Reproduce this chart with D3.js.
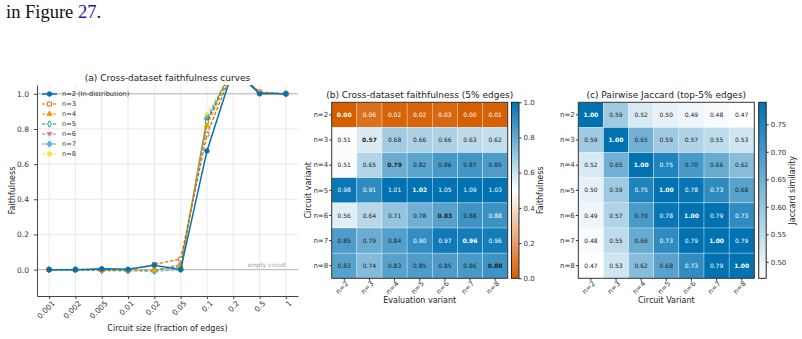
<!DOCTYPE html>
<html>
<head>
<meta charset="utf-8">
<script src="https://cdn.jsdelivr.net/npm/d3@7"></script>
<style>
  body { margin: 0; background: #fff; }
  svg text { font-family: "DejaVu Sans", sans-serif; }
  svg text.serif { font-family: "Liberation Serif", serif; }
</style>
</head>
<body>
<div id="chart"></div>
<script>
// ---- data ----
const sizes = ["0.001", "0.002", "0.005", "0.01", "0.02", "0.05", "0.1", "0.2", "0.5", "1"];
const seriesNames = ["n=2 (In-distribution)", "n=3", "n=4", "n=5", "n=6", "n=7", "n=8"];
const n2 = [0.000, 0.000, 0.005, 0.002, 0.025, 0.000, 0.675, 1.14, 1.000, 1.000];
const n3 = [0.000, 0.000, 0.000, -0.003, 0.030, 0.060, 0.770, 1.14, 1.010, 1.000];
const n4 = [0.000, 0.000, -0.002, -0.004, -0.003, 0.020, 0.820, 1.14, 1.005, 1.000];
const n5 = [0.000, 0.000, -0.006, -0.005, -0.005, 0.020, 0.840, 1.15, 1.005, 1.000];
const n6 = [0.000, 0.000, -0.002, -0.004, -0.004, 0.030, 0.850, 1.15, 1.005, 1.000];
const n7 = [0.000, 0.000, -0.003, -0.006, -0.010, 0.000, 0.860, 1.15, 1.005, 1.000];
const n8 = [0.000, 0.000, -0.002, -0.005, -0.002, 0.010, 0.880, 1.15, 1.005, 1.000];
const curveYTicks = [0.0, 0.2, 0.4, 0.6, 0.8, 1.0];

const variants = ["n=2", "n=3", "n=4", "n=5", "n=6", "n=7", "n=8"];
const faithMatrix = [
  [0.00, 0.06, 0.02, 0.02, 0.03, 0.00, 0.01],
  [0.51, 0.57, 0.68, 0.66, 0.66, 0.63, 0.62],
  [0.51, 0.65, 0.79, 0.82, 0.86, 0.87, 0.85],
  [0.98, 0.91, 1.01, 1.02, 1.05, 1.09, 1.03],
  [0.56, 0.64, 0.71, 0.78, 0.83, 0.88, 0.884],
  [0.85, 0.79, 0.84, 0.90, 0.97, 0.96, 0.96],
  [0.83, 0.74, 0.83, 0.85, 0.85, 0.86, 0.88]
];
const faithTicks = [0.0, 0.2, 0.4, 0.6, 0.8, 1.0];

const jaccardMatrix = [
  [1.00, 0.59, 0.52, 0.50, 0.49, 0.48, 0.47],
  [0.59, 1.00, 0.65, 0.59, 0.57, 0.55, 0.53],
  [0.52, 0.65, 1.00, 0.75, 0.70, 0.66, 0.62],
  [0.50, 0.59, 0.75, 1.00, 0.78, 0.73, 0.68],
  [0.49, 0.57, 0.70, 0.78, 1.00, 0.79, 0.73],
  [0.48, 0.55, 0.66, 0.73, 0.79, 1.00, 0.79],
  [0.47, 0.53, 0.62, 0.68, 0.73, 0.79, 1.00]
];
const jaccardTicks = [0.50, 0.55, 0.60, 0.65, 0.70, 0.75];

const series = [n2, n3, n4, n5, n6, n7, n8];
const colors = ["#0072B2", "#D55E00", "#E69F00", "#009E73", "#CC79A7", "#56B4E9", "#F0E442"];
const markers = ["circle", "square", "triangle", "diamond", "triangleDown", "plus", "pentagon"];

const W = 802, H = 339;
const svg = d3.select("#chart").append("svg").attr("width", W).attr("height", H).style("display", "block");

// leftover text from the page above the figure
const headText = svg.append("text").attr("class", "serif").attr("x", 6).attr("y", 17.5)
  .style("font-size", "18.5px").attr("fill", "#111");
headText.append("tspan").text("in Figure ");
headText.append("tspan").attr("fill", "#1a1aa6").text("27");
headText.append("tspan").text(".");

// ================= (a) curves =================
const ax = { l: 37, r: 298, t: 85, b: 296 };
const x = d3.scalePoint().domain(sizes).range([ax.l, ax.r]).padding(0.46);
const y = d3.scaleLinear().domain([-0.15, 1.05]).range([ax.b, ax.t]);

const ga = svg.append("g");
ga.append("clipPath").attr("id", "clipA").append("rect")
  .attr("x", ax.l).attr("y", ax.t).attr("width", ax.r - ax.l).attr("height", ax.b - ax.t);

// grid
ga.selectAll(".vg").data(sizes).enter().append("line")
  .attr("x1", d => x(d)).attr("x2", d => x(d)).attr("y1", ax.t).attr("y2", ax.b)
  .attr("stroke", "#e3e3e3").attr("stroke-width", 0.8);
ga.selectAll(".hg").data(curveYTicks).enter().append("line")
  .attr("x1", ax.l).attr("x2", ax.r).attr("y1", d => y(d)).attr("y2", d => y(d))
  .attr("stroke", "#e3e3e3").attr("stroke-width", 0.8);
// reference lines at 0 and 1
[0, 1].forEach(v => {
  ga.append("line").attr("x1", ax.l).attr("x2", ax.r).attr("y1", y(v)).attr("y2", y(v))
    .attr("stroke", "#b5b5b5").attr("stroke-width", 1);
});
ga.append("text").attr("x", x("1")).attr("y", y(0) - 2.5).attr("text-anchor", "end")
  .style("font-size", "5.8px").attr("fill", "#999").text("empty circuit");

function markerPath(type, size) {
  const s = size;
  switch (type) {
    case "circle": return d3.symbol(d3.symbolCircle, s * s * 0.8)();
    case "square": return d3.symbol(d3.symbolSquare, s * s * 0.75)();
    case "triangle": return d3.symbol(d3.symbolTriangle, s * s * 0.6)();
    case "triangleDown": return "M" + (-s / 2) + "," + (-s / 3) + "L" + (s / 2) + "," + (-s / 3) + "L0," + (s / 2) + "Z";
    case "diamond": return d3.symbol(d3.symbolDiamond, s * s * 0.6)();
    case "plus": return d3.symbol(d3.symbolCross, s * s * 0.8)();
    case "pentagon": return d3.symbol(d3.symbolCircle, s * s * 0.8)();
  }
}
const openMarkers = { square: true, diamond: true };

const line = d3.line().x((d, i) => x(sizes[i])).y(d => y(d));
const plotA = ga.append("g").attr("clip-path", "url(#clipA)");
// draw n=8 first so n=2 is on top
for (let k = series.length - 1; k >= 0; k--) {
  const g = plotA.append("g");
  g.append("path").datum(series[k]).attr("d", line).attr("fill", "none")
    .attr("stroke", colors[k]).attr("stroke-width", k === 0 ? 1.5 : 1.2)
    .attr("stroke-dasharray", k === 0 ? null : "3.5,1.8");
  g.selectAll("path.m").data(series[k]).enter().append("path").attr("class", "m")
    .attr("transform", (d, i) => `translate(${x(sizes[i])},${y(d)})`)
    .attr("d", markerPath(markers[k], 4.5))
    .attr("fill", openMarkers[markers[k]] ? "#fff" : colors[k])
    .attr("stroke", colors[k]).attr("stroke-width", 0.9);
}

// axes
const xAxisA = ga.append("g").attr("transform", `translate(0,${ax.b})`)
  .call(d3.axisBottom(x).tickSize(3).tickSizeOuter(0));
xAxisA.selectAll("text").attr("transform", "rotate(-45)").attr("text-anchor", "end")
  .attr("dx", "-0.2em").attr("dy", "0.5em").style("font-size", "7.5px").attr("fill", "#333");
const yAxisA = ga.append("g").attr("transform", `translate(${ax.l},0)`)
  .call(d3.axisLeft(y).tickValues(curveYTicks).tickFormat(d3.format(".1f")).tickSize(3).tickPadding(5).tickSizeOuter(0));
yAxisA.selectAll("text").style("font-size", "7.5px").attr("fill", "#333");
[xAxisA, yAxisA].forEach(a => {
  a.select(".domain").attr("stroke", "#444").attr("stroke-width", 1);
  a.selectAll(".tick line").attr("stroke", "#444");
});

ga.append("text").attr("x", (ax.l + ax.r) / 2).attr("y", 80.5).attr("text-anchor", "middle")
  .style("font-size", "9px").attr("fill", "#222").text("(a) Cross-dataset faithfulness curves");
ga.append("text").attr("x", (ax.l + ax.r) / 2).attr("y", 331).attr("text-anchor", "middle")
  .style("font-size", "8px").attr("fill", "#222").text("Circuit size (fraction of edges)");
ga.append("text").attr("transform", `translate(14.5,${(ax.t + ax.b) / 2}) rotate(-90)`)
  .attr("text-anchor", "middle").style("font-size", "8px").attr("fill", "#222").text("Faithfulness");

// legend
const leg = ga.append("g");
seriesNames.forEach((name, k) => {
  const ly = 94 + k * 10;
  leg.append("line").attr("x1", 42).attr("x2", 57).attr("y1", ly).attr("y2", ly)
    .attr("stroke", colors[k]).attr("stroke-width", k === 0 ? 1.5 : 1.2)
    .attr("stroke-dasharray", k === 0 ? null : "3.5,1.8");
  leg.append("path").attr("transform", `translate(49.5,${ly})`).attr("d", markerPath(markers[k], 4.5))
    .attr("fill", openMarkers[markers[k]] ? "#fff" : colors[k]).attr("stroke", colors[k]).attr("stroke-width", 0.9);
  leg.append("text").attr("x", 62).attr("y", ly).attr("dy", "0.35em")
    .style("font-size", "6.6px").attr("fill", "#333").text(name);
});

// ================= heatmaps =================
function heatmap(opt) {
  const g = svg.append("g");
  const xs = d3.scaleBand().domain(variants).range([opt.x0, opt.x0 + 176]);
  const ys = d3.scaleBand().domain(variants).range([102.3, 278.3]);
  opt.matrix.forEach((row, i) => {
    row.forEach((v, j) => {
      g.append("rect").attr("x", xs(variants[j])).attr("y", ys(variants[i]))
        .attr("width", xs.bandwidth()).attr("height", ys.bandwidth())
        .attr("fill", opt.color(v)).attr("stroke", "#fff").attr("stroke-width", 0.5).attr("stroke-opacity", 0.6);
      g.append("text").attr("x", xs(variants[j]) + xs.bandwidth() / 2).attr("y", ys(variants[i]) + ys.bandwidth() / 2)
        .attr("dy", "0.35em").attr("text-anchor", "middle")
        .style("font-size", "6px").style("font-weight", i === j ? "bold" : "normal")
        .attr("fill", opt.white(v) ? "#fff" : "#222").text(v.toFixed(2));
    });
  });
  g.append("rect").attr("x", opt.x0).attr("y", 102.3).attr("width", 176).attr("height", 176)
    .attr("fill", "none").attr("stroke", "#333").attr("stroke-width", 1);

  const xa = g.append("g").attr("transform", "translate(0,278.3)").call(d3.axisBottom(xs).tickSize(2.5).tickPadding(2));
  xa.select(".domain").remove();
  xa.selectAll("text").attr("transform", "rotate(-45)").attr("text-anchor", "end")
    .attr("dx", "-0.1em").attr("dy", "0.4em").style("font-size", "7px").attr("fill", "#333");
  const ya = g.append("g").attr("transform", `translate(${opt.x0},0)`).call(d3.axisLeft(ys).tickSize(2.5).tickPadding(1));
  ya.select(".domain").remove();
  ya.selectAll("text").style("font-size", "7px").attr("fill", "#333");
  [xa, ya].forEach(a => a.selectAll(".tick line").attr("stroke", "#333"));

  g.append("text").attr("x", opt.x0 + 88).attr("y", 98).attr("text-anchor", "middle")
    .style("font-size", "9px").attr("fill", "#222").text(opt.title);
  g.append("text").attr("x", opt.x0 + 88).attr("y", 303).attr("text-anchor", "middle")
    .style("font-size", "8px").attr("fill", "#222").text(opt.xlabel);
  if (opt.ylabel) {
    g.append("text").attr("transform", `translate(${opt.x0 - 21},190.3) rotate(-90)`)
      .attr("text-anchor", "middle").style("font-size", "8px").attr("fill", "#222").text(opt.ylabel);
  }

  // colorbar
  const cb = { x: opt.cbx, w: 7.5, t: 102.3, b: 278.3 };
  const cy = d3.scaleLinear().domain(opt.domain).range([cb.b, cb.t]);
  const gid = "grad" + opt.id;
  const grad = svg.append("defs").append("linearGradient").attr("id", gid)
    .attr("x1", 0).attr("x2", 0).attr("y1", 1).attr("y2", 0);
  d3.range(0, 1.0001, 0.05).forEach(t => {
    grad.append("stop").attr("offset", t).attr("stop-color", opt.color(opt.domain[0] + t * (opt.domain[1] - opt.domain[0])));
  });
  g.append("rect").attr("x", cb.x).attr("y", cb.t).attr("width", cb.w).attr("height", cb.b - cb.t)
    .attr("fill", `url(#${gid})`).attr("stroke", "#222").attr("stroke-width", 1);
  const ca = g.append("g").attr("transform", `translate(${cb.x + cb.w},0)`)
    .call(d3.axisRight(cy).tickValues(opt.ticks).tickFormat(d3.format(opt.fmt)).tickSize(2.5).tickPadding(2));
  ca.select(".domain").remove();
  ca.selectAll("text").style("font-size", "7px").attr("fill", "#333");
  ca.selectAll(".tick line").attr("stroke", "#333");
  g.append("text").attr("transform", `translate(${opt.cblx},190.3) rotate(-90)`)
    .attr("text-anchor", "middle").style("font-size", "8px").attr("fill", "#222").text(opt.cblabel);
}

const faithColor = d3.scaleLinear().domain([0, 0.5, 1]).range(["#D55E00", "#ffffff", "#0072B2"]).clamp(true);
heatmap({
  id: "b", x0: 331.7, matrix: faithMatrix, color: faithColor,
  white: v => v > 0.88 || v < 0.15,
  title: "(b) Cross-dataset faithfulness (5% edges)", xlabel: "Evaluation variant", ylabel: "Circuit variant",
  cbx: 511.5, domain: [0, 1], ticks: faithTicks, fmt: ".1f", cblabel: "Faithfulness", cblx: 543
});

const jacColor = d3.scaleLinear().domain([0.47, 0.79]).range(["#ffffff", "#0072B2"]).clamp(true);
heatmap({
  id: "c", x0: 578.3, matrix: jaccardMatrix, color: jacColor,
  white: v => v > 0.715,
  title: "(c) Pairwise Jaccard (top-5% edges)", xlabel: "Circuit Variant", ylabel: null,
  cbx: 758.7, domain: [0.47, 0.79], ticks: jaccardTicks, fmt: ".2f", cblabel: "Jaccard similarity", cblx: 794.5
});
</script>
</body>
</html>
